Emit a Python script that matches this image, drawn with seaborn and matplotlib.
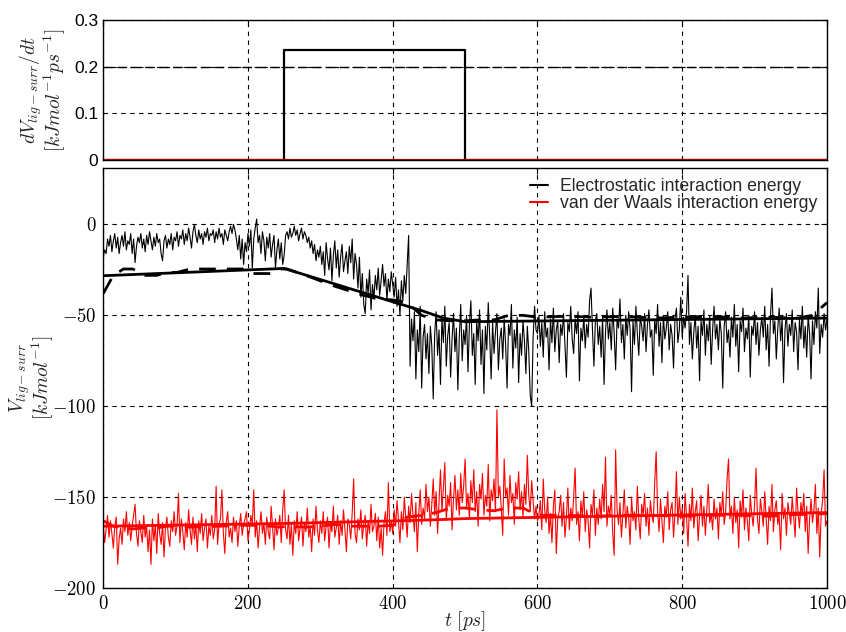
import numpy as np
import pandas as pd
import seaborn as sns
import matplotlib
matplotlib.use("Agg")
import matplotlib.pyplot as plt
from matplotlib.ticker import FuncFormatter
from matplotlib.lines import Line2D

# time grid of the raw trajectories (ps)
t_raw = np.arange(0, 1001, 2)

# electrostatic ligand-surrounding energy, raw (kJ/mol)
elec_raw = [
    -18, -14, -16, -8, -12, -6, -15, -9, -5, -13, -7, -16, -10, -6, -12, -4, -14, -9, -11, -5, -16, -8, -21, -12, -7,
    -10, -5, -13, -8, -15, -6, -11, -4, -9, -14, -7, -12, -5, -10, -8, -16, -20, -9, -6, -13, -8, -11, -5, -14, -7,
    -9, -4, -12, -6, -8, -3, -11, -5, -9, -2, -7, -13, -4, 0, -6, -10, -3, -8, -5, -11, -4, -7, -2, -9, -5,
    -6, -3, -10, -4, -8, -2, -7, -5, -11, -3, -6, -9, -4, -1, -5, 0, -3, -8, -14, -6, -19, -8, -22, -10, -15,
    -5, -12, -3, -24, -8, -2, 3, -10, -6, -16, -4, -9, -20, -7, -13, -5, -18, -11, -6, -24, -14, -8, -19, -10, -22,
    -17, -6, -4, -8, -2, -7, -5, -1, -6, -3, -9, -5, -2, -8, -4, -6, -10, -7, -13, -9, -16, -11, -20, -14, -18,
    -12, -22, -15, -28, -10, -19, -25, -13, -31, -17, -9, -24, -14, -29, -18, -11, -26, -20, -15, -27, -12, -21, -8, -30, -16,
    -22, -35, -18, -40, -27, -44, -49, -30, -38, -25, -47, -33, -41, -28, -36, -24, -39, -31, -22, -34, -27, -42, -30, -37, -26,
    -33, -40, -29, -45, -36, -50, -31, -42, -28, -38, -22, -6, -78, -52, -64, -48, -85, -58, -70, -45, -90, -62, -55, -74, -60,
    -82, -56, -67, -96, -60, -48, -72, -58, -88, -52, -65, -45, -78, -61, -54, -84, -63, -49, -70, -57, -91, -62, -44, -75, -58,
    -66, -50, -81, -55, -42, -72, -60, -88, -53, -64, -47, -77, -58, -93, -56, -69, -43, -62, -85, -54, -71, -59, -49, -80, -63,
    -57, -74, -52, -66, -90, -55, -61, -44, -79, -58, -68, -51, -87, -60, -72, -53, -64, -82, -56, -70, -94, -100, -62, -45, -58,
    -60, -50, -67, -54, -73, -48, -62, -57, -80, -52, -65, -46, -70, -58, -53, -76, -55, -61, -49, -66, -84, -54, -59, -45, -63,
    -71, -52, -60, -48, -86, -57, -64, -50, -68, -55, -62, -42, -35, -58, -78, -53, -49, -66, -56, -73, -51, -88, -59, -47, -63,
    -54, -69, -46, -60, -80, -52, -57, -41, -65, -55, -74, -50, -61, -48, -58, -92, -53, -66, -45, -60, -72, -51, -56, -64, -49,
    -70, -55, -47, -62, -58, -83, -52, -60, -44, -67, -54, -76, -50, -63, -57, -48, -69, -55, -61, -79, -52, -46, -65, -58, -40,
    -62, -51, -57, -48, -28, -66, -54, -74, -59, -50, -68, -56, -86, -53, -61, -47, -72, -55, -64, -50, -77, -58, -45, -63, -55,
    -69, -52, -60, -90, -56, -48, -65, -58, -73, -51, -62, -44, -67, -55, -81, -53, -59, -46, -70, -57, -63, -50, -84, -56, -61,
    -48, -66, -54, -72, -58, -51, -62, -45, -69, -55, -78, -50, -35, -60, -53, -74, -57, -46, -64, -52, -87, -58, -49, -67, -55,
    -61, -47, -70, -54, -59, -80, -52, -63, -45, -68, -56, -73, -50, -60, -85, -53, -66, -48, -57, -35, -71, -55, -62, -49, -58,
    -52,
]

# van der Waals ligand-surrounding energy, raw (kJ/mol)
vdw_raw = [
    -165, -175, -168, -160, -172, -163, -170, -178, -166, -161, -187, -173, -167, -176, -162, -169, -158, -171, -164, -174, -166, -160, -154, -170, -177,
    -163, -169, -175, -160, -172, -166, -180, -168, -187, -162, -174, -165, -181, -159, -170, -176, -164, -183, -167, -161, -172, -177, -163, -169, -158,
    -171, -166, -148, -175, -162, -169, -179, -164, -172, -157, -168, -176, -161, -173, -165, -180, -163, -170, -159, -174, -167, -162, -178, -166, -171,
    -160, -173, -168, -144, -176, -165, -162, -146, -170, -181, -164, -158, -172, -167, -175, -161, -169, -163, -177, -166, -159, -171, -165, -162, -158,
    -174, -168, -160, -165, -146, -172, -163, -178, -167, -158, -170, -164, -176, -161, -169, -173, -155, -166, -179, -162, -171, -167, -160, -175, -157,
    -146, -168, -173, -160, -176, -165, -182, -163, -170, -158, -174, -167, -161, -177, -164, -169, -156, -172, -166, -180, -162, -171, -155, -168, -175,
    -163, -170, -158, -174, -166, -161, -178, -164, -169, -155, -172, -167, -160, -176, -163, -171, -157, -168, -180, -162, -165, -173, -159, -140, -170,
    -175, -162, -168, -157, -173, -165, -160, -177, -163, -170, -154, -169, -166, -159, -174, -161, -178, -167, -182, -164, -158, -171, -142, -169, -163,
    -170, -157, -166, -152, -163, -175, -158, -168, -150, -161, -172, -155, -164, -148, -160, -169, -153, -180, -159, -146, -165, -156, -162, -143, -158,
    -150, -166, -154, -140, -160, -147, -170, -152, -135, -158, -145, -131, -163, -149, -155, -142, -168, -151, -138, -157, -146, -160, -137, -153, -144,
    -129, -156, -148, -162, -141, -153, -135, -158, -147, -166, -143, -151, -137, -160, -149, -155, -132, -163, -146, -152, -140, -158, -102, -150, -144,
    -156, -171, -129, -150, -145, -160, -138, -153, -148, -165, -142, -151, -136, -157, -147, -161, -143, -154, -127, -149, -158, -141, -152, -162, -155,
    -163, -160, -152, -168, -140, -157, -164, -150, -170, -159, -175, -155, -146, -181, -162, -158, -149, -166, -153, -172, -161, -145, -168, -156, -163,
    -150, -134, -165, -158, -174, -152, -161, -147, -169, -157, -163, -178, -154, -160, -146, -171, -156, -165, -151, -162, -143, -158, -128, -166, -155,
    -160, -149, -170, -182, -124, -157, -165, -153, -172, -159, -146, -167, -155, -161, -176, -150, -163, -158, -168, -144, -162, -173, -154, -160, -148,
    -166, -156, -171, -152, -160, -164, -142, -125, -158, -169, -151, -163, -175, -155, -161, -147, -168, -157, -153, -172, -159, -136, -165, -150, -162,
    -156, -170, -148, -161, -177, -154, -163, -145, -167, -158, -152, -174, -160, -149, -166, -155, -171, -157, -143, -164, -159, -168, -151, -162, -156,
    -173, -153, -160, -147, -165, -158, -140, -129, -162, -155, -170, -150, -164, -157, -178, -152, -161, -146, -168, -156, -163, -174, -149, -159, -166,
    -154, -134, -162, -170, -151, -158, -166, -147, -161, -176, -155, -163, -143, -169, -157, -152, -165, -160, -179, -148, -162, -156, -171, -153, -159,
    -165, -150, -161, -172, -145, -158, -167, -153, -160, -148, -169, -155, -181, -162, -151, -164, -157, -143, -170, -156, -183, -159, -152, -135, -166,
    -163,
]

# smoothed (dashed) curves
t_smooth = [0, 14, 28, 41, 55, 74, 88, 102, 120, 160, 194, 205, 231, 245, 254,
            280, 300, 320, 340, 360, 380, 400, 420, 440, 460, 480, 500, 520, 540,
            560, 580, 600, 640, 680, 720, 760, 800, 840, 880, 920, 960, 980, 1000]
elec_smooth = [-38, -28, -24.5, -24.5, -28, -28, -26.4, -26.4, -24.5, -24.5, -24.5, -27, -27, -24.5, -24.5,
               -28, -31, -34, -36.5, -39, -41, -41.5, -43, -50, -52.5, -53, -53, -52.5, -52.5,
               -50, -50, -51, -50.5, -51, -50.5, -51.5, -51, -50.5, -51.5, -51, -51.5, -50, -43]
vdw_smooth = [-163, -166, -167, -167.5, -167, -167, -166, -166, -166.5, -166, -165.5, -165.5, -166, -166.5, -166,
              -166.5, -166, -165, -166, -166, -166, -165.5, -161, -160, -158.5, -156, -156, -157, -157.5,
              -156, -156, -160, -160, -160.5, -160, -160, -160.5, -160, -160, -160.5, -159.5, -159.5, -159]

# fitted (solid) curves
t_fit = [0, 250, 440, 470, 500, 1000]
elec_fit = [-28.2, -24.2, -47.4, -51.5, -53.5, -51.5]
vdw_fit = [-166, -164.5, -162.7, -162.3, -161.8, -158.5]

# rate of change (top panel)
t_rate = [0, 250, 250, 500, 500, 1000]
elec_rate = [0, 0, 0.235, 0.235, 0, 0]
vdw_rate = [0, 0, 0, 0, 0, 0]

raw = pd.DataFrame({"t": t_raw, "elec": elec_raw, "vdw": vdw_raw})

sns.set_style("white")
plt.rcParams["mathtext.fontset"] = "cm"
plt.rcParams["font.family"] = ["Liberation Sans", "DejaVu Sans"]
plt.rcParams["axes.edgecolor"] = "black"

fig = plt.figure(figsize=(8.46, 6.32), dpi=100)
ax1 = fig.add_axes([0.122, 0.747, 0.8555, 0.221])
ax2 = fig.add_axes([0.122, 0.0696, 0.8555, 0.6644])

grid_kw = dict(color="black", linestyle=(0, (4, 4)), linewidth=0.8)

# top panel
ax1.axhline(0.2, color="black", linestyle=(0, (7, 3)), linewidth=1.0, zorder=1)
sns.lineplot(x=t_rate, y=elec_rate, color="black", linewidth=1.6, estimator=None, sort=False, ax=ax1)
sns.lineplot(x=t_rate, y=vdw_rate, color="#cc0000", linewidth=1.6, estimator=None, sort=False, ax=ax1)
ax1.set_xlim(0, 1000)
ax1.set_ylim(0, 0.3)
ax1.set_yticks([0, 0.1, 0.2, 0.3])
ax1.set_yticklabels(["0", "0.1", "0.2", "0.3"])
ax1.set_xticks([0, 200, 400, 600, 800, 1000])
ax1.set_xticklabels([])
ax1.grid(True, **grid_kw)
ax1.set_ylabel("$dV_{lig-surr}/dt$\n$[kJmol^{-1}ps^{-1}]$", fontsize=14, linespacing=0.9)
ax1.yaxis.set_label_coords(-0.048, 0.5)

# bottom panel
sns.lineplot(data=raw, x="t", y="elec", color="black", linewidth=0.8, ax=ax2,
             label="Electrostatic interaction energy")
sns.lineplot(data=raw, x="t", y="vdw", color="red", linewidth=0.8, ax=ax2,
             label="van der Waals interaction energy")
sns.lineplot(x=t_fit, y=elec_fit, color="black", linewidth=2.0, ax=ax2)
sns.lineplot(x=t_smooth, y=elec_smooth, color="black", linewidth=2.0, linestyle=(0, (6, 4)), ax=ax2)
sns.lineplot(x=t_fit, y=vdw_fit, color="red", linewidth=2.0, ax=ax2)
sns.lineplot(x=t_smooth, y=vdw_smooth, color="red", linewidth=2.0, linestyle=(0, (6, 4)), ax=ax2)
ax2.set_xlim(0, 1000)
ax2.set_ylim(-200, 31)
ax2.set_xticks([0, 200, 400, 600, 800, 1000])
ax2.set_yticks([-200, -150, -100, -50, 0])
math_fmt = FuncFormatter(lambda v, p: f"${v:g}$")
ax2.xaxis.set_major_formatter(math_fmt)
ax2.yaxis.set_major_formatter(math_fmt)
ax2.grid(True, **grid_kw)
ax2.set_xlabel("$t\\ [ps]$", fontsize=14)
ax2.xaxis.set_label_coords(0.5, -0.05)
ax2.set_ylabel("$V_{lig-surr}$\n$[kJmol^{-1}]$", fontsize=14, linespacing=0.9)
ax2.yaxis.set_label_coords(-0.065, 0.5)

handles = [Line2D([], [], color="black", linewidth=1.5), Line2D([], [], color="red", linewidth=1.5)]
ax2.legend(handles, ["Electrostatic interaction energy", "van der Waals interaction energy"],
           loc="upper right", frameon=False, fontsize=12.7, handlelength=1.0, handletextpad=0.7,
           borderaxespad=0.15, labelspacing=0.0)

for ax in (ax1, ax2):
    ax.tick_params(direction="in", length=4, width=0.8, top=True, right=True, colors="black")
    for s in ax.spines.values():
        s.set_color("black")
        s.set_linewidth(1.0)
ax1.tick_params(labelsize=12.5)
ax2.tick_params(labelsize=13.5, pad=5)

fig.savefig("out.png", dpi=100)
